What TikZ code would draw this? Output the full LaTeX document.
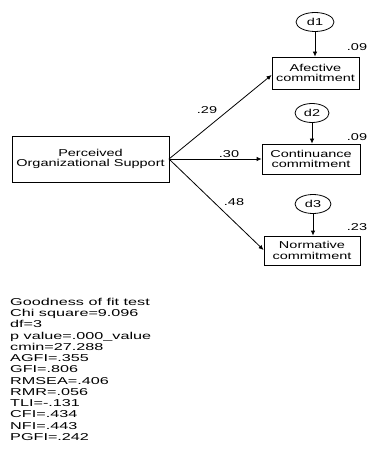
\documentclass[tikz,border=0pt]{standalone}
\usepackage{fontspec}
\setmainfont{Liberation Sans}
\newfontfamily\widefont{Liberation Sans}[FakeStretch=1.45]
\newfontfamily\statfont{Liberation Sans}[FakeStretch=1.62]
\usetikzlibrary{arrows.meta,shapes.geometric}
\begin{document}
\begin{tikzpicture}[x=1pt,y=-1pt,
  box/.style={draw,line width=0.8pt,inner sep=0pt,font=\widefont\fontsize{10}{10.5}\selectfont,align=center},
  err/.style={draw,ellipse,line width=0.8pt,minimum width=38pt,minimum height=19pt,inner sep=0pt,font=\widefont\fontsize{10}{10}\selectfont},
  link/.style={line width=0.8pt,-{Latex[length=5pt,width=4.5pt]}},
  coef/.style={font=\widefont\fontsize{10}{10}\selectfont,inner sep=0pt},
  stat/.style={font=\statfont\fontsize{10}{11.25}\selectfont,align=left,inner sep=0pt,anchor=north west}]
\useasboundingbox (0,0) rectangle (368,449);
\node[box,minimum width=157pt,minimum height=46pt] (pos) at (90.5,159) {Perceived\\Organizational Support};
\node[box,minimum width=87pt,minimum height=32pt] (af) at (315.5,73) {Afective\\commitment};
\node[box,minimum width=98pt,minimum height=30pt] (co) at (311,159) {Continuance\\commitment};
\node[box,minimum width=96pt,minimum height=29pt] (no) at (312,250.5) {Normative\\commitment};
\node[err] (d1) at (315,22) {d1};
\node[err,minimum width=34pt,minimum height=19pt] (d2) at (312,113) {d2};
\node[err,minimum width=36pt,minimum height=19pt] (d3) at (313,204) {d3};
\draw[link] (d1) -- (af.north -| d1);
\draw[link] (d2) -- (co.north -| d2);
\draw[link] (d3) -- (no.north -| d3);
\coordinate (src) at (169,159);
\draw[link] (src) -- (af.south west |- 0,75);
\draw[link] (src) -- (co.west);
\draw[link] (src) -- (no.south west |- 0,250);
\node[coef] (c1) at (207,110) {.29};
\node[coef] (c2) at (229,154) {.30};
\node[coef] (c3) at (234,202) {.48};
\node[coef] (r1) at (357,47) {.09};
\node[coef] (r2) at (357,137) {.09};
\node[coef] (r3) at (357,227) {.23};
\node[stat] (gof) at (10,298) {Goodness of fit test\\Chi square=9.096\\df=3\\p value=.000\_value\\cmin=27.288\\AGFI=.355\\GFI=.806\\RMSEA=.406\\RMR=.056\\TLI=-.131\\CFI=.434\\NFI=.443\\PGFI=.242};
\end{tikzpicture}
\end{document}
